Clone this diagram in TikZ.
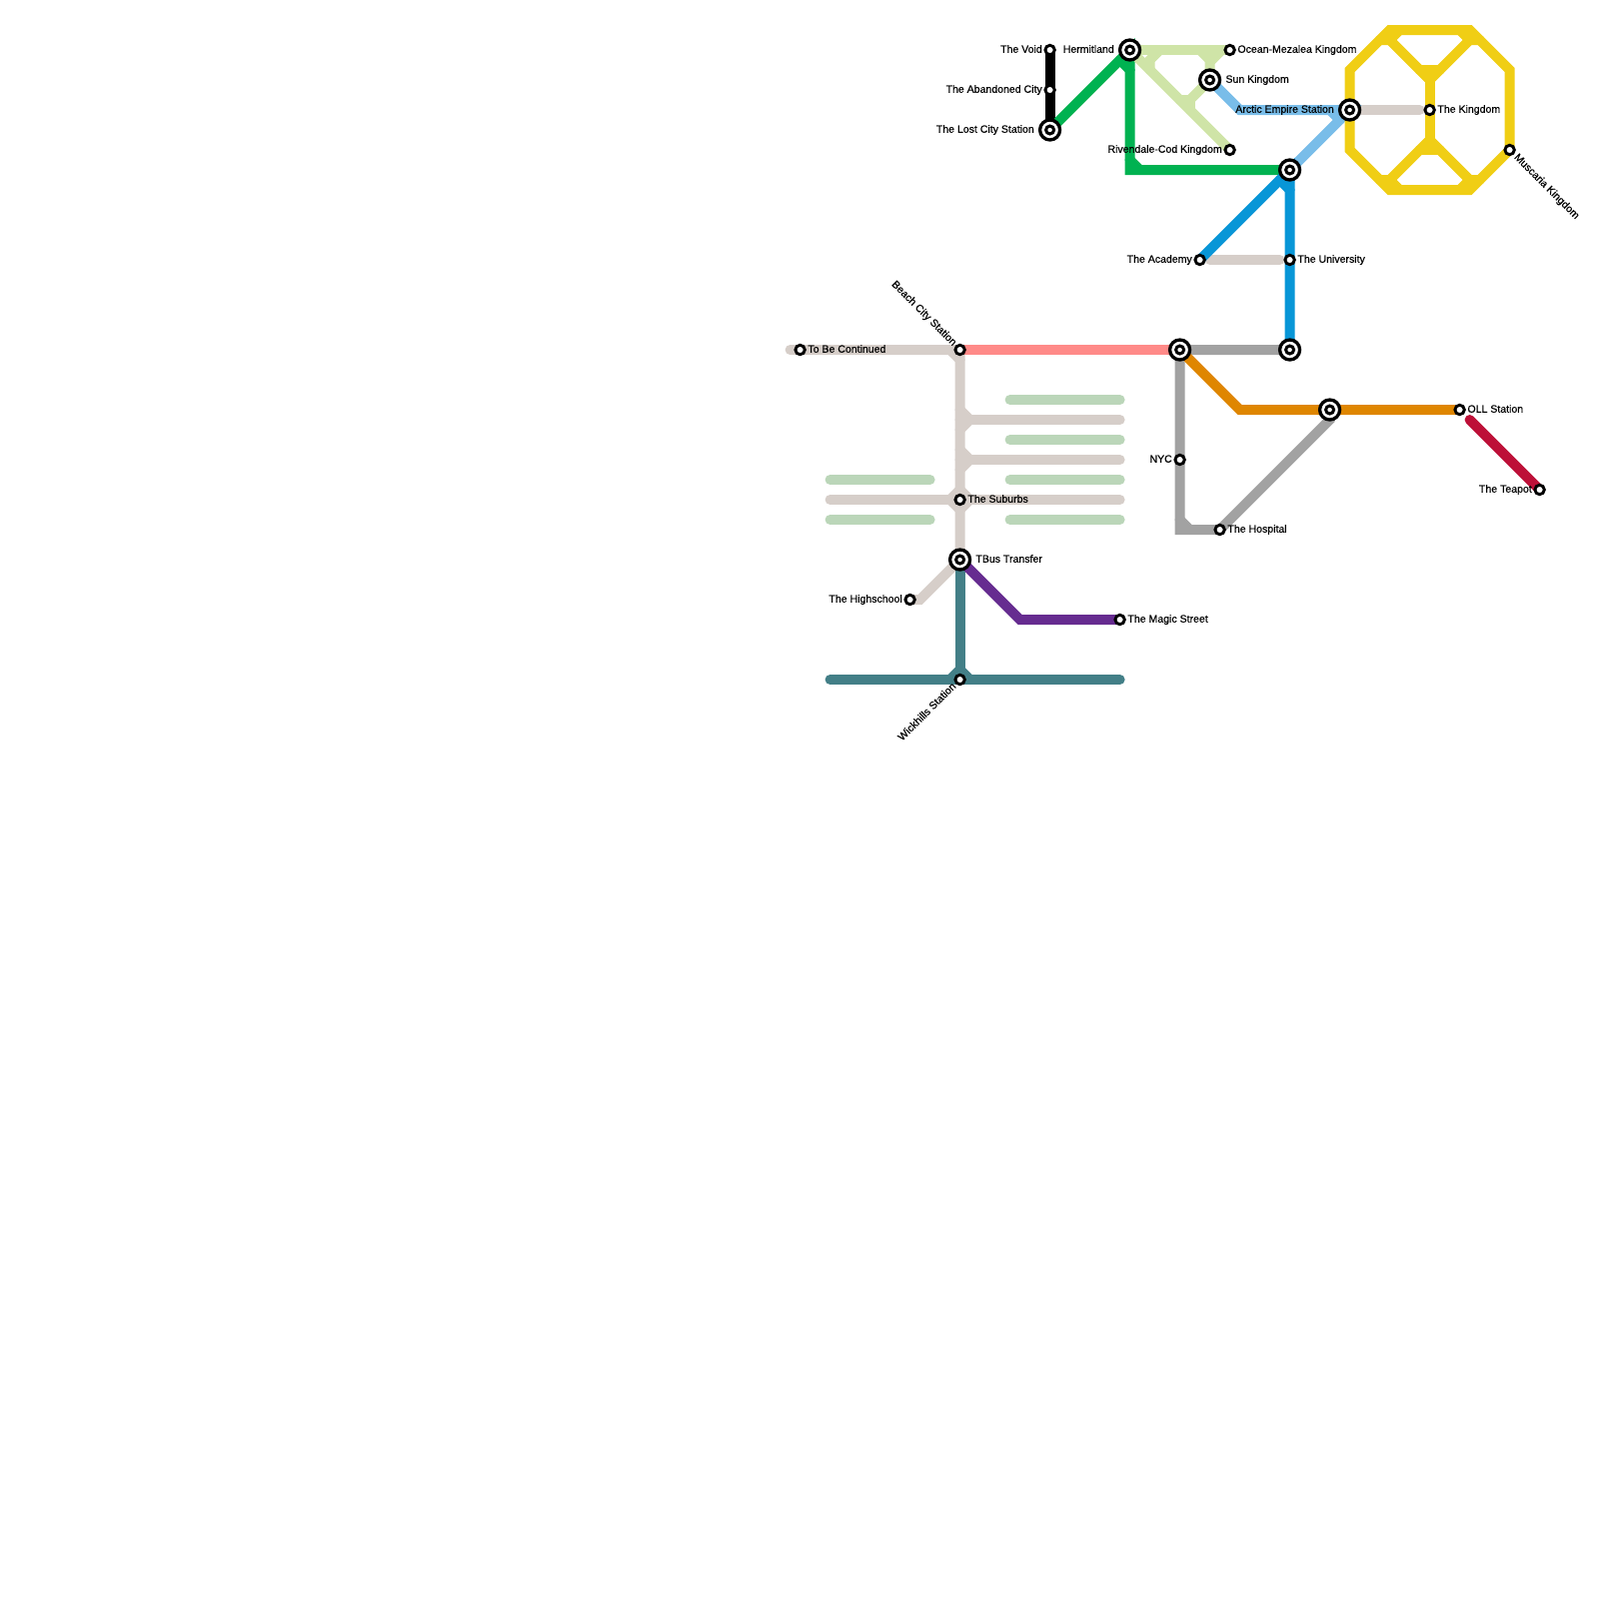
\documentclass[tikz,border=0pt]{standalone}
\usepackage{fontspec}
\usepackage{xcolor}
\setmainfont[FakeBold=0.35]{Liberation Sans}
\usetikzlibrary{positioning, backgrounds}
\definecolor{railgreen}{HTML}{00B251}
\definecolor{raillime}{HTML}{CFE4A7}
\definecolor{railsky}{HTML}{79BDE9}
\definecolor{railblue}{HTML}{0896D7}
\definecolor{railyellow}{HTML}{F0CE15}
\definecolor{railsilver}{HTML}{A2A2A2}
\definecolor{railsand}{HTML}{D6CEC9}
\definecolor{railpink}{HTML}{FF8A88}
\definecolor{railorange}{HTML}{DF8600}
\definecolor{railpurple}{HTML}{662C90}
\definecolor{railcrimson}{HTML}{BD1038}
\definecolor{railteal}{HTML}{437F87}
\definecolor{railsage}{HTML}{BBD6B9}
\tikzset{
    metro/.style={line width=1mm, line cap=round, line join=miter},
    stop/.style={circle, draw=black, fill=white, line width=0.29mm, minimum size=0.94mm, inner sep=0pt},
    hubcore/.style={circle, draw=black, fill=white, line width=0.3mm, minimum size=0.8mm, inner sep=0pt},
    hub/.style={circle, draw=black, fill=white, line width=0.33mm, minimum size=2mm, inner sep=0pt, label={[hubcore]center:}},
    lbl/.style={inner sep=0pt, text height=0.75mm, text depth=0.2mm, font=\fontsize{3pt}{3.4pt}\selectfont}
}

\begin{document}
\begin{tikzpicture}[x=0.1mm, y=-0.1mm]
    \useasboundingbox (-0.6,0) rectangle (1599.4,1600);
    % Stations
    \node[stop] (void) at (1050,50) {};
    \node[stop] (abandoned) at (1050,90) {};
    \node[hub] (lostcity) at (1050,130) {};
    \node[hub] (hermit) at (1130,50) {};
    \node[stop] (ocean) at (1230,50) {};
    \node[hub] (sun) at (1210,80) {};
    \node[stop] (rivendale) at (1230,150) {};
    \node[hub] (fork) at (1290,170) {};
    \node[hub] (arctic) at (1350,110) {};
    \node[stop] (kingdom) at (1430,110) {};
    \node[stop] (muscaria) at (1510,150) {};
    \node[stop] (academy) at (1200,260) {};
    \node[stop] (university) at (1290,260) {};
    \node[hub] (campus) at (1290,350) {};
    \node[hub] (cross) at (1180,350) {};
    \node[stop] (nyc) at (1180,460) {};
    \node[stop] (hospital) at (1220,530) {};
    \node[hub] (mid) at (1330,410) {};
    \node[stop] (oll) at (1460,410) {};
    \node[stop] (teapot) at (1540,490) {};
    \node[stop] (continued) at (800,350) {};
    \node[stop] (beach) at (960,350) {};
    \node[stop] (suburbs) at (960,500) {};
    \node[hub] (tbus) at (960,560) {};
    \node[stop] (highschool) at (910,600) {};
    \node[stop] (magic) at (1120,620) {};
    \node[stop] (wickhills) at (960,680) {};

    % Labels
    \node[lbl, left=0.1mm of void] (voidlabel) {The Void};
    \node[lbl, left=0.1mm of abandoned] (abandonedlabel) {The Abandoned City};
    \node[lbl, left=0.35mm of lostcity] (lostcitylabel) {The Lost City Station};
    \node[lbl, left=0.35mm of hermit] (hermitlabel) {Hermitland};
    \node[lbl, right=0.1mm of ocean] (oceanlabel) {Ocean-Mezalea Kingdom};
    \node[lbl, right=0.35mm of sun] (sunlabel) {Sun Kingdom};
    \node[lbl, left=0.1mm of rivendale] (rivendalelabel) {Rivendale-Cod Kingdom};
    \node[lbl, left=0.35mm of arctic] (arcticlabel) {Arctic Empire Station};
    \node[lbl, right=0.1mm of kingdom] (kingdomlabel) {The Kingdom};
    \node[lbl, left=0.1mm of academy] (academylabel) {The Academy};
    \node[lbl, right=0.1mm of university] (universitylabel) {The University};
    \node[lbl, left=0.1mm of nyc] (nyclabel) {NYC};
    \node[lbl, right=0.1mm of hospital] (hospitallabel) {The Hospital};
    \node[lbl, right=0.1mm of oll] (olllabel) {OLL Station};
    \node[lbl, left=0.1mm of teapot] (teapotlabel) {The Teapot};
    \node[lbl, right=0.1mm of continued] (continuedlabel) {To Be Continued};
    \node[lbl, right=0.1mm of suburbs] (suburbslabel) {The Suburbs};
    \node[lbl, right=0.35mm of tbus] (tbuslabel) {TBus Transfer};
    \node[lbl, left=0.1mm of highschool] (highschoollabel) {The Highschool};
    \node[lbl, right=0.1mm of magic] (magiclabel) {The Magic Street};
    % Rotated labels
    \node[lbl, rotate=-45, anchor=east] (beachlabel) at ([shift={(-0.5mm,0.5mm)}]beach.center) {Beach City Station};
    \node[lbl, rotate=45, anchor=east] (wickhillslabel) at ([shift={(-0.5mm,-0.5mm)}]wickhills.center) {Wickhills Station};
    \node[lbl, rotate=-45, anchor=west] (muscarialabel) at ([shift={(0.55mm,-0.55mm)}]muscaria.center) {Muscaria Kingdom};

    % Bends and free line ends
    \coordinate (greenbend) at (1130,170);
    \coordinate (skybend) at (1240,110);
    \coordinate (silverbend) at (1180,530);
    \coordinate (silverup) at (1330,420);
    \coordinate (orangebend) at (1240,410);
    \coordinate (purplebend) at (1020,620);
    \coordinate (schoolbend) at (920,600);
    \coordinate (teapotend) at (1470,420);
    \coordinate (sandstart) at (790,350);
    \coordinate (limetop) at (1222,50);
    \coordinate (limefork) at (1210,62);

    \begin{pgfonlayer}{background}
        % Sand lines
        \draw[metro, railsand] (sandstart) -- (beach.center) -- (tbus.center) -- (schoolbend) -- (highschool.center);
        \draw[metro, railsand] (960,420) -- (1120,420);
        \draw[metro, railsand] (960,460) -- (1120,460);
        \draw[metro, railsand] (830,500) -- (1120,500);
        \draw[metro, railsand] (950,350) -- (960,360);
        \draw[metro, railsand] (960,410) -- (970,420) -- (960,430);
        \draw[metro, railsand] (960,450) -- (970,460) -- (960,470);
        \draw[metro, railsand] (950,500) -- (960,490) -- (970,500) -- (960,510) -- cycle;
        \draw[metro, railsand] (1210,260) -- (1280,260);
        \draw[metro, railsand] (arctic.center) -- (1420,110);
        % Sage bars
        \foreach \y in {400, 440, 480, 520} {
            \draw[metro, railsage] (1010,\y) -- (1120,\y);
        }
        \foreach \y in {480, 520} {
            \draw[metro, railsage] (830,\y) -- (930,\y);
        }
        % Top lines
        \draw[metro] (void.center) -- (lostcity.center);
        \draw[metro, railgreen] (lostcity.center) -- (hermit.center) -- (greenbend) -- (fork.center);
        \draw[metro, railgreen] (1120,60) -- (1130,70);
        \draw[metro, railgreen] (1130,160) -- (1140,170);
        % Lime lines
        \draw[metro, raillime] (hermit.center) -- (ocean.center);
        \draw[metro, raillime] (limetop) -- (limefork) -- (sun.center);
        \draw[metro, raillime] (hermit.center) -- (rivendale.center);
        \draw[metro, raillime] (sun.center) -- (1190,100) -- (1180,100);
        \draw[metro, raillime] (1190,100) -- (1190,110);
        \draw[metro, raillime] (1150,70) -- (1150,60) -- (1160,50);
        \draw[metro, raillime] (1200,50) -- (1210,60);
        % Blue lines
        \draw[metro, railsky] (sun.center) -- (skybend) -- (arctic.center) -- (fork.center);
        \draw[metro, railsky] (1330,110) -- (1340,120);
        \draw[metro, railblue] (academy.center) -- (fork.center) -- (campus.center);
        \draw[metro, railblue] (1280,180) -- (1290,190);
        % Yellow octagon
        \draw[metro, railyellow] (1350,70) -- (1390,30) -- (1470,30) -- (1510,70) -- (1510,150) -- (1470,190) -- (1390,190) -- (1350,150) -- cycle;
        \draw[metro, railyellow] (1390,40) -- (1430,80) -- (1470,40);
        \draw[metro, railyellow] (1390,180) -- (1430,140) -- (1470,180);
        \draw[metro, railyellow] (1430,80) -- (1430,140);
        \draw[metro, railyellow] (1420,70) -- (1440,70);
        \draw[metro, railyellow] (1420,150) -- (1440,150);
        \draw[metro, railyellow] (1380,40) -- (1390,40) -- (1400,30);
        \draw[metro, railyellow] (1480,40) -- (1470,40) -- (1460,30);
        \draw[metro, railyellow] (1380,180) -- (1390,180) -- (1400,190);
        \draw[metro, railyellow] (1480,180) -- (1470,180) -- (1460,190);
        % Middle lines
        \draw[metro, railpink] (beach.center) -- (cross.center);
        \draw[metro, railsilver] (campus.center) -- (cross.center) -- (silverbend) -- (hospital.center) -- (silverup) -- (mid.center);
        \draw[metro, railsilver] (1180,520) -- (1190,530);
        \draw[metro, railorange] (cross.center) -- (orangebend) -- (oll.center);
        \draw[metro, railcrimson] (teapotend) -- (teapot.center);
        % Bottom lines
        \draw[metro, railteal] (tbus.center) -- (wickhills.center);
        \draw[metro, railteal] (830,680) -- (1120,680);
        \draw[metro, railteal] (950,680) -- (960,670) -- (970,680);
        \draw[metro, railpurple] (tbus.center) -- (purplebend) -- (magic.center);
    \end{pgfonlayer}
\end{tikzpicture}
\end{document}
